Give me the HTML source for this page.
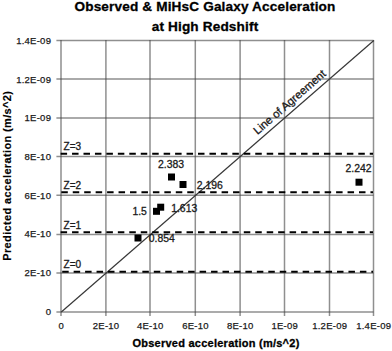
<!DOCTYPE html>
<html><head><meta charset="utf-8">
<style>
html,body{margin:0;padding:0;background:#fff;}
body{width:392px;height:351px;overflow:hidden;}
svg{display:block;}
text{font-family:"Liberation Sans",sans-serif;}
.t{font-weight:bold;font-size:13.6px;fill:#000;letter-spacing:0.15px;stroke:#000;stroke-width:0.3px;}
.ax{font-weight:bold;font-size:11px;fill:#000;letter-spacing:0.25px;stroke:#000;stroke-width:0.3px;}
.ay{letter-spacing:0.36px;stroke-width:0.15px;}
.tk{font-size:9.5px;fill:#1a1a1a;letter-spacing:0.25px;stroke:#1a1a1a;stroke-width:0.25px;}
.dl{font-size:10.4px;fill:#1a1a1a;stroke:#1a1a1a;stroke-width:0.3px;}
.z{font-size:10px;fill:#1a1a1a;stroke:#1a1a1a;stroke-width:0.3px;}
</style></head>
<body>
<svg width="392" height="351" viewBox="0 0 392 351">
<rect width="392" height="351" fill="#fff"/>
<text class="t" x="205" y="10.8" text-anchor="middle">Observed &amp; MiHsC Galaxy Acceleration</text>
<text class="t" x="205" y="30.6" text-anchor="middle">at High Redshift</text>
<g stroke="#444" stroke-opacity="0.6" stroke-width="1.5" fill="none">
<path d="M56.4 40.5H373.5M56.4 78.9H373.5M56.4 117.9H373.5M56.4 156.5H373.5M56.4 195.2H373.5M56.4 234.4H373.5M56.4 273H373.5"/>
<path d="M61 40V316M105.9 40V316M150 40V316M195.3 40V316M240.1 40V316M284.5 40V316M329.5 40V316M373.5 40V316"/>
<path d="M56.4 312H373.5"/>
</g>
<path d="M61.3 312L373.8 40.5" stroke="#383838" stroke-width="1.2" fill="none"/>
<g stroke="#000" stroke-width="2" stroke-dasharray="6.5 4.95" fill="none">
<path d="M60.6 153.8H373"/>
<path d="M61.3 192.3H373"/>
<path d="M60.6 232.3H373"/>
<path d="M62.2 271.7H373"/>
</g>
<text class="z" x="63.6" y="150.2">Z=3</text>
<text class="z" x="63.6" y="188.8">Z=2</text>
<text class="z" x="63.6" y="228.8">Z=1</text>
<text class="z" x="63.6" y="268.3">Z=0</text>
<g fill="#000">
<rect x="168" y="173.5" width="7" height="7"/>
<rect x="179.5" y="181" width="7" height="7"/>
<rect x="153" y="207.8" width="7" height="7"/>
<rect x="157.2" y="203.7" width="7" height="7"/>
<rect x="134.5" y="234.5" width="7" height="7"/>
<rect x="355.5" y="178.7" width="7" height="7"/>
</g>
<text class="dl" x="158" y="168.1">2.383</text>
<text class="dl" x="196.8" y="189.2">2.196</text>
<text class="dl" x="132.4" y="214.5">1.5</text>
<text class="dl" x="171.2" y="211.8">1.613</text>
<text class="dl" x="148.8" y="241.6">0.854</text>
<text class="dl" x="345.6" y="172.2">2.242</text>
<text class="dl" style="font-size:11.3px;stroke-width:0.3px" transform="translate(257.4 135.1) rotate(-40.98)">Line of Agreement</text>
<g class="tk" text-anchor="end">
<text x="51.2" y="44.1">1.4E-09</text>
<text x="51.2" y="82.6">1.2E-09</text>
<text x="51.2" y="120.6">1E-09</text>
<text x="51.2" y="159.9">8E-10</text>
<text x="51.2" y="198.8">6E-10</text>
<text x="51.2" y="237.1">4E-10</text>
<text x="51.2" y="276.4">2E-10</text>
<text x="51.2" y="315.1">0</text>
</g>
<g class="tk" text-anchor="middle">
<text x="61.2" y="329">0</text>
<text x="106.1" y="329">2E-10</text>
<text x="150.2" y="329">4E-10</text>
<text x="195.5" y="329">6E-10</text>
<text x="240.3" y="329">8E-10</text>
<text x="284.7" y="329">1E-09</text>
<text x="329.7" y="329">1.2E-09</text>
<text x="373.7" y="329">1.4E-09</text>
</g>
<text class="ax" x="216" y="346.8" text-anchor="middle">Observed acceleration (m/s^2)</text>
<text class="ax ay" transform="translate(10.6 175.7) rotate(-90)" text-anchor="middle">Predicted acceleration (m/s^2)</text>
</svg>
</body></html>
